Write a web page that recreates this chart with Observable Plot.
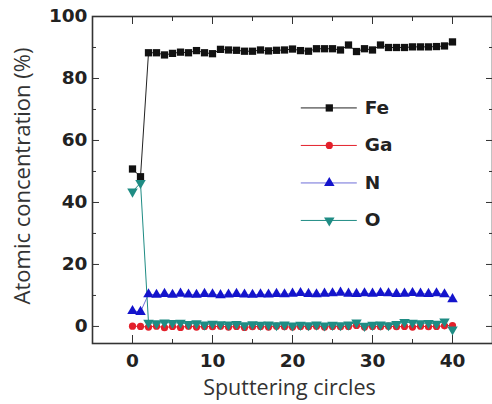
<!DOCTYPE html>
<html>
<head>
<meta charset="utf-8">
<script src="https://cdn.jsdelivr.net/npm/d3@7"></script>
<script src="https://cdn.jsdelivr.net/npm/@observablehq/plot@0.6"></script>
<style>
  body { margin: 0; background: #fff; }
  #chart svg { display: block; }
</style>
</head>
<body>
<div id="chart"></div>
<script>
// Sputtering cycle index (x)
const cycles = [0, 1, 2, 3, 4, 5, 6, 7, 8, 9, 10, 11, 12, 13, 14, 15, 16, 17, 18, 19, 20,
                21, 22, 23, 24, 25, 26, 27, 28, 29, 30, 31, 32, 33, 34, 35, 36, 37, 38, 39, 40];

// Atomic concentration (%) for each element per cycle
const fe = [50.8, 48.3, 88.3, 88.3, 87.6, 88.1, 88.5, 88.3, 89.0, 88.3, 88.0, 89.4, 89.2, 89.1, 88.8, 88.8,
            89.2, 88.9, 89.1, 89.2, 89.5, 89.0, 88.8, 89.6, 89.6, 89.6, 89.2, 90.8, 88.7, 89.6, 89.2,
            90.8, 90.0, 90.0, 90.0, 90.2, 90.2, 90.2, 90.3, 90.5, 91.8];
const ga = [0.1, 0.0, -0.2, 0.1, -0.4, 0.0, -0.3, 0.1, -0.2, 0.0, -0.1, 0.1, -0.2, 0.0, -0.3, -0.1,
            0.0, -0.2, 0.1, -0.1, -0.2, 0.0, -0.1, 0.1, -0.2, 0.0, -0.1, 0.0, 0.3, -0.2, 0.0,
            -0.1, 0.1, -0.1, 0.0, -0.2, 0.1, -0.1, 0.0, 0.2, 0.3];
const n  = [5.0, 4.7, 10.4, 10.2, 10.5, 10.2, 10.6, 10.3, 10.2, 10.5, 10.4, 10.1, 10.3, 10.5, 10.3, 10.2,
            10.4, 10.3, 10.5, 10.4, 10.6, 10.8, 10.5, 10.4, 10.6, 10.7, 10.9, 10.6, 10.5, 10.7, 10.6,
            10.8, 10.7, 10.5, 10.6, 10.8, 10.6, 10.5, 10.7, 10.4, 8.8];
const o  = [43.5, 46.3, 1.2, 1.0, 1.3, 1.1, 1.2, 0.8, 1.0, 0.6, 0.9, 0.7, 0.6, 0.8, 0.4, 0.7,
            0.5, 0.6, 0.4, 0.6, 0.3, 0.5, 0.4, 0.6, 0.3, 0.5, 0.4, 0.6, 1.3, 0.2, 0.5,
            0.6, 0.4, 0.8, 1.4, 1.2, 1.0, 1.1, 0.9, 1.6, -1.0];

const elements = ["Fe", "Ga", "N", "O"];
const yTicks = [0, 20, 40, 60, 80, 100];
const yMinor = [10, 30, 50, 70, 90];
const xTicks = [0, 10, 20, 30, 40];
const xMinor = [-5, 5, 15, 25, 35, 45];

// Drawing style per element
const style = {
  Fe: {color: "#111111", line: "#222222", symbol: "square", r: 4.1, rotate: 0},
  Ga: {color: "#e3202b", line: "#e3202b", symbol: "circle", r: 3.6, rotate: 0},
  N:  {color: "#1414cc", line: "#6f6fd8", symbol: "triangle", r: 3.9, rotate: 0},
  O:  {color: "#1f8c84", line: "#1f8c84", symbol: "triangle", r: 3.9, rotate: 180}
};

const values = {Fe: fe, Ga: ga, N: n, O: o};
const rows = elements.flatMap(el => cycles.map((c, i) => ({el, x: c, y: values[el][i]})));

// Legend placement, in data units inside the plot frame
const legendX1 = 21.1, legendX2 = 28.1, legendMarkX = 24.6, legendTextX = 28.9;
const legendTop = 70.5, legendStep = 12.1;
const legend = elements.map((el, i) => ({el, y: legendTop - i * legendStep}));

const tickFont = {fontFamily: "DejaVu Sans", fontWeight: "bold", fontSize: 18.5};
const titleFont = {fontFamily: "Open Sans", fill: "#333", lineAnchor: "middle", textAnchor: "middle"};
const blank = () => "";

const marks = [
  Plot.frame({stroke: "#333", strokeWidth: 1.6}),
  // major / minor ticks, all pointing inward
  Plot.axisY(yTicks, {anchor: "left", tickSize: -7, tickPadding: 12, label: null, ...tickFont, fill: "#222"}),
  Plot.axisY(yMinor, {anchor: "left", tickSize: -4, tickFormat: blank, label: null}),
  Plot.axisY(yTicks, {anchor: "right", tickSize: -7, tickFormat: blank, label: null}),
  Plot.axisY(yMinor, {anchor: "right", tickSize: -4, tickFormat: blank, label: null}),
  Plot.axisX(xTicks, {anchor: "bottom", tickSize: -8, tickPadding: 18, label: null, ...tickFont, fill: "#222"}),
  Plot.axisX(xMinor, {anchor: "bottom", tickSize: -4, tickFormat: blank, label: null}),
  Plot.axisX(xTicks, {anchor: "top", tickSize: -7, tickFormat: blank, label: null}),
  Plot.axisX(xMinor, {anchor: "top", tickSize: -4, tickFormat: blank, label: null}),
  // axis titles
  Plot.text(["Sputtering circles"], {frameAnchor: "bottom", dy: 45, dx: -3, text: d => d,
    fontSize: 21.5, ...titleFont}),
  Plot.text(["Atomic concentration (%)"], {frameAnchor: "left", dx: -70, dy: -4, rotate: -90, text: d => d,
    fontSize: 22, ...titleFont})
];

for (const el of elements) {
  const s = style[el];
  const data = rows.filter(d => d.el === el);
  marks.push(Plot.line(data, {x: "x", y: "y", stroke: s.line, strokeWidth: 1}));
}
for (const el of elements) {
  const s = style[el];
  const data = rows.filter(d => d.el === el);
  marks.push(Plot.dot(data, {x: "x", y: "y", symbol: s.symbol, r: s.r, rotate: s.rotate, fill: s.color, stroke: "none"}));
}

// legend inside the frame
for (const item of legend) {
  const s = style[item.el];
  marks.push(Plot.ruleY([item], {y: "y", x1: legendX1, x2: legendX2, stroke: s.line, strokeWidth: 1}));
  marks.push(Plot.dot([item], {x: legendMarkX, y: "y", symbol: s.symbol, r: s.r, rotate: s.rotate, fill: s.color, stroke: "none"}));
  marks.push(Plot.text([item], {x: legendTextX, y: "y", text: "el", textAnchor: "start", dx: 1,
    ...tickFont, fill: "#222"}));
}

const chart = Plot.plot({
  width: 492,
  height: 404,
  marginLeft: 92,
  marginRight: 0,
  marginTop: 16,
  marginBottom: 61,
  x: {domain: [-5, 45]},
  y: {domain: [-5.5, 100]},
  style: {background: "#fff", color: "#333"},
  marks
});
document.getElementById("chart").appendChild(chart);
</script>
</body>
</html>
